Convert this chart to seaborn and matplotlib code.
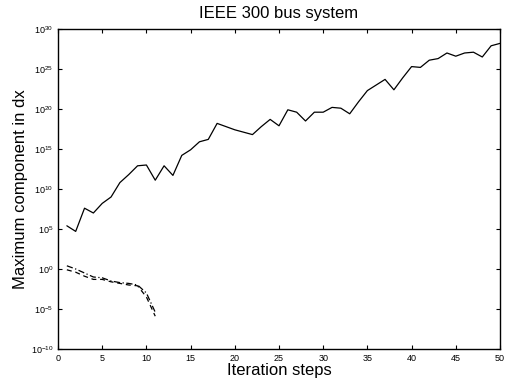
import numpy as np
import pandas as pd
import matplotlib
matplotlib.use("Agg")
import matplotlib.pyplot as plt
import seaborn as sns
from matplotlib.ticker import FixedLocator, NullLocator

sns.set_style("ticks")
plt.rcParams['font.family'] = ['Liberation Sans', 'DejaVu Sans']
plt.rcParams['mathtext.fontset'] = 'custom'
plt.rcParams['mathtext.rm'] = 'Liberation Sans'
plt.rcParams['text.color'] = 'black'
plt.rcParams['axes.labelcolor'] = 'black'
plt.rcParams['xtick.color'] = 'black'
plt.rcParams['ytick.color'] = 'black'

steps_main = list(range(1, 51))
log_main = [5.4, 4.7, 7.6, 7.0, 8.2, 9.0, 10.8, 11.8, 12.9, 13.0,
            11.1, 12.9, 11.7, 14.2, 14.9, 15.9, 16.2, 18.2, 17.8, 17.4,
            17.1, 16.8, 17.8, 18.7, 17.9, 19.9, 19.6, 18.5, 19.6, 19.6,
            20.2, 20.1, 19.4, 20.9, 22.3, 23.0, 23.7, 22.4, 23.9, 25.3,
            25.2, 26.1, 26.3, 27.0, 26.6, 27.0, 27.1, 26.5, 27.9, 28.2]
steps_short = list(range(1, 12))
log_dashdot = [0.4, 0.0, -0.5, -1.0, -1.1, -1.5, -1.7, -1.8, -2.0, -3.0, -5.4]
log_dashed = [-0.1, -0.4, -0.9, -1.3, -1.3, -1.6, -1.8, -2.0, -2.1, -3.5, -5.9]

x_ticks = list(range(0, 51, 5))
y_ticks = [1e-10, 1e-5, 1e0, 1e5, 1e10, 1e15, 1e20, 1e25, 1e30]
y_labels = [r'$10^{-10}$', r'$10^{-5}$', r'$10^{0}$', r'$10^{5}$', r'$10^{10}$',
            r'$10^{15}$', r'$10^{20}$', r'$10^{25}$', r'$10^{30}$']

df_main = pd.DataFrame({'step': steps_main, 'val': 10.0 ** np.array(log_main)})
df_a = pd.DataFrame({'step': steps_short, 'val': 10.0 ** np.array(log_dashdot)})
df_b = pd.DataFrame({'step': steps_short, 'val': 10.0 ** np.array(log_dashed)})

fig = plt.figure(figsize=(5.08, 3.85), dpi=100)
ax = fig.add_axes([0.1142, 0.0935, 0.870, 0.8312])

sns.lineplot(data=df_main, x='step', y='val', ax=ax, color='black', lw=0.9)
sns.lineplot(data=df_a, x='step', y='val', ax=ax, color='black', lw=0.9,
             linestyle=(0, (5, 2, 1, 2)))
sns.lineplot(data=df_b, x='step', y='val', ax=ax, color='black', lw=0.9,
             linestyle=(0, (4, 3)))

ax.set_yscale('log')
ax.set_xlim(0, 50)
ax.set_ylim(1e-10, 1e30)
ax.xaxis.set_major_locator(FixedLocator(x_ticks))
ax.set_xticklabels([str(t) for t in x_ticks])
ax.yaxis.set_major_locator(FixedLocator(y_ticks))
ax.yaxis.set_minor_locator(NullLocator())
ax.set_yticklabels(y_labels)
ax.tick_params(direction='in', top=True, right=True, labelsize=6.5,
               length=3, width=0.8, color='black', labelcolor='black')
for s in ax.spines.values():
    s.set_visible(True)
    s.set_linewidth(1.0)
    s.set_color('black')

ax.set_title('IEEE 300 bus system', fontsize=12, pad=8, color='black')
ax.set_xlabel('Iteration steps', fontsize=12, labelpad=0, color='black')
ax.set_ylabel('Maximum component in dx', fontsize=12, labelpad=2, color='black')

fig.savefig('out.png', dpi=100)
